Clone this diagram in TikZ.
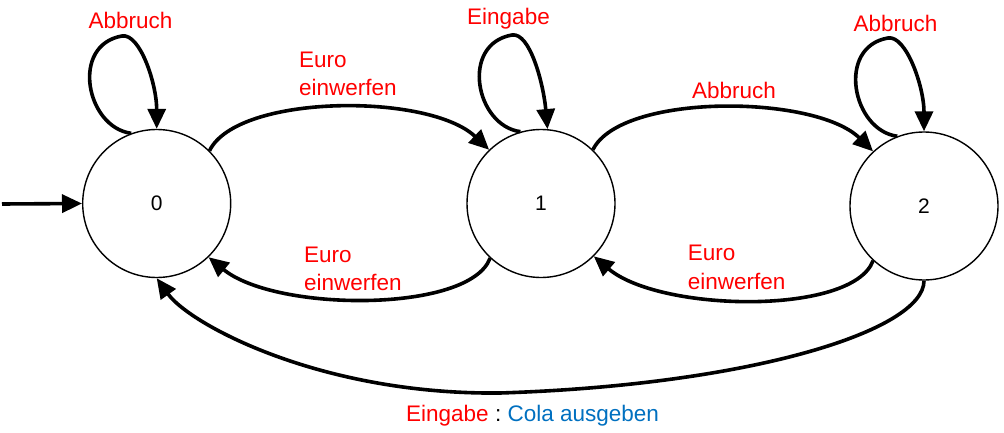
\documentclass[tikz,border=0pt]{standalone}
\usepackage{fontspec}
\setmainfont{Liberation Sans}
\usetikzlibrary{arrows.meta}
\definecolor{lblred}{RGB}{255,0,0}
\definecolor{lblblue}{RGB}{0,112,192}
\begin{document}
\begin{tikzpicture}[x=1pt,y=-1pt,
  state/.style={circle,draw,line width=1.4pt,minimum size=148pt,inner sep=0pt,
    font=\fontsize{21}{25}\selectfont},
  edge/.style={line width=3.6pt,-{Triangle[length=20pt,width=18pt]}},
  lbl/.style={inner sep=0pt,text=lblred,font=\fontsize{22.5}{28.4}\selectfont},
  lbl2/.style={lbl,align=left,anchor=north west}]
\useasboundingbox (0,0) rectangle (1004,433);
\node[state] (s0) at (156.7,203.5) {0};
\node[state] (s1) at (541,203.5) {1};
\node[state] (s2) at (924,206) {2};
\coordinate (init) at (2,204);
\coordinate (t0) at (122,36);
\coordinate (t1) at (512,35);
\coordinate (t2) at (888,38);
\coordinate (b) at (500,393);
% initial
\draw[edge] (init) -- (s0.west);
% self loops
\draw[edge] (s0.110) .. controls +(-45,-6) and +(-52,9) .. (t0)
  .. controls +(18,-3) and +(0,-45) .. (s0.90);
\draw[edge] (s1.106) .. controls +(-45,-6) and +(-52,9) .. (t1)
  .. controls +(18,-3) and +(-4,-45) .. (s1.85);
\draw[edge] (s2.111) .. controls +(-45,-6) and +(-52,9) .. (t2)
  .. controls +(18,-3) and +(0,-45) .. (s2.90);
% upper arcs
\draw[edge] (s0.45) .. controls +(28,-57) and +(-60,-57) .. (s1.134);
\draw[edge] (s1.46) .. controls +(28,-57) and +(-58,-57) .. (s2.133);
% lower arcs
\draw[edge] (s1.227) .. controls +(-20,55) and +(67,55) .. (s0.-46);
\draw[edge] (s2.227) .. controls +(-20,55) and +(66,56) .. (s1.-45);
% bottom arc
\draw[edge] (s2.270) .. controls +(0,50) and +(250,-8) .. (b)
  .. controls +(-180,2) and +(33,46) .. (s0.270);
% labels
\node[lbl,anchor=base] (l0) at (130.5,28.3) {Abbruch};
\node[lbl,anchor=base] (l1) at (508.5,25) {Eingabe};
\node[lbl,anchor=base] (l2) at (895.5,31.7) {Abbruch};
\node[lbl,anchor=base] (l12) at (734,98.3) {Abbruch};
\node[lbl2] (l01) at (299,51.5) {Euro\\einwerfen};
\node[lbl2] (l10) at (304,246.5) {Euro\\einwerfen};
\node[lbl2] (l21) at (687.7,245) {Euro\\einwerfen};
\node[lbl,anchor=base west] (l20) at (406,421.5)
  {Eingabe\ \textcolor{black}{:}\ \textcolor{lblblue}{Cola ausgeben}};
\end{tikzpicture}
\end{document}
